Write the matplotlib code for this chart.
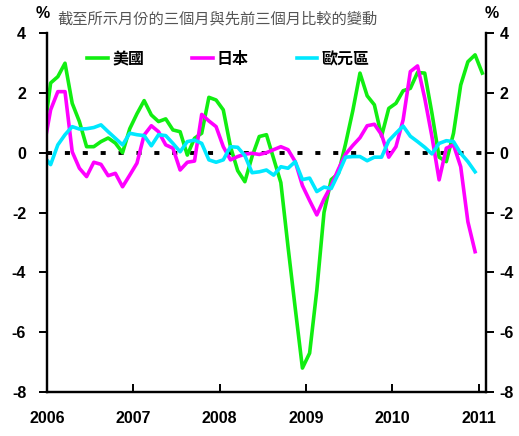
import matplotlib
matplotlib.use("Agg")
import matplotlib.pyplot as plt
import numpy as np

plt.rcParams['font.family'] = ['Liberation Sans', 'Noto Sans CJK TC']

# monthly values, mid-Dec 2005 .. mid-Jan 2011 (first point is clipped by the axis)
us = [0.5,
      2.33, 2.54, 2.99, 1.65, 1.04, 0.2, 0.2, 0.37, 0.49, 0.32, 0.0, 0.8,
      1.3, 1.74, 1.26, 1.04, 1.13, 0.76, 0.7, -0.08, 0.48, 0.65, 1.85, 1.76,
      1.43, 0.2, -0.6, -0.97, -0.13, 0.54, 0.6, -0.2, -1.0, -3.15, -5.2, -7.2,
      -6.7, -4.6, -2.0, -0.9, -0.7, 0.3, 1.4, 2.66, 1.9, 1.6, 0.55, 1.48,
      1.65, 2.07, 2.15, 2.68, 2.66, 1.32, -0.15, -0.3, 0.65, 2.26, 3.04, 3.27,
      2.66]
japan = [0.1,
         1.43, 2.04, 2.04, 0.03, -0.52, -0.8, -0.32, -0.39, -0.77, -0.69, -1.14, -0.75,
         -0.35, 0.59, 0.9, 0.7, 0.26, 0.15, -0.58, -0.32, -0.28, 1.28, 1.06, 0.87,
         0.2, -0.24, -0.13, -0.05, -0.02, -0.06, 0.0, 0.1, 0.2, 0.1, -0.3, -1.1,
         -1.6, -2.08, -1.55, -1.1, -0.55, -0.05, 0.24, 0.5, 0.9, 0.95, 0.6, -0.15,
         0.2, 1.1, 2.71, 2.9, 1.82, 0.54, -0.91, 0.15, 0.26, -0.47, -2.31, -3.31]
euro = [-0.1,
        -0.4, 0.26, 0.6, 0.87, 0.79, 0.8, 0.84, 0.93, 0.7, 0.48, 0.26, 0.65,
        0.6, 0.57, 0.23, 0.6, 0.57, 0.31, 0.03, 0.37, 0.42, 0.31, -0.24, -0.32,
        -0.24, 0.2, 0.18, -0.1, -0.67, -0.64, -0.58, -0.75, -0.47, -0.52, -0.3, -0.9,
        -0.85, -1.3, -1.15, -1.2, -0.7, -0.15, -0.13, -0.13, -0.27, -0.15, -0.15, 0.4,
        0.65, 0.89, 0.55, 0.37, 0.18, -0.04, 0.31, 0.4, 0.37, -0.02, -0.3, -0.64]

names = ['美國', '日本', '歐元區']
colors = ['#11EE11', '#FF00FF', '#00E8FF']
years = [2006, 2007, 2008, 2009, 2010, 2011]
yticks = [-8, -6, -4, -2, 0, 2, 4]
title = '截至所示月份的三個月與先前三個月比較的變動'

def month_x(n):
    return 2006 + (np.arange(n) - 0.5) / 12

fig = plt.figure(figsize=(5.19, 4.36), dpi=100)
ax = fig.add_axes([0.0906, 0.1009, 0.8452, 0.8234])

ax.axhline(0, color='black', lw=2.8, ls=(0, (1.3, 3.3)), zorder=1)
for data, name, c in zip([us, japan, euro], names, colors):
    ax.plot(month_x(len(data)), data, color=c, lw=2.6, label=name, zorder=2)

ax.set_xlim(2006, 2011.081)
ax.set_ylim(-8, 4)
ax.set_xticks(years)
ax.set_xticklabels([str(y) for y in years], fontweight='bold')
ax.set_yticks(yticks)
ax.set_yticklabels([str(v) for v in yticks], fontweight='bold')

# right hand axis, same scale
ax2 = ax.twinx()
ax2.set_ylim(-8, 4)
ax2.set_yticks(yticks)
ax2.set_yticklabels([str(v) for v in yticks], fontweight='bold')

for a in [ax, ax2]:
    a.spines['top'].set_visible(False)
    for s in ['left', 'right', 'bottom']:
        a.spines[s].set_linewidth(1.6)

ax.tick_params(axis='x', direction='in', length=6, width=1.4, pad=14,
               labelsize=11.5)
ax.tick_params(axis='y', direction='out', length=6, width=1.4, pad=9,
               labelsize=11.5)
ax2.tick_params(axis='y', direction='out', length=6, width=1.4, pad=4,
                labelsize=11.5)

ax.legend(loc='center left', bbox_to_anchor=(73 / 519, 1 - 59 / 436),
          bbox_transform=fig.transFigure, ncol=3, frameon=False,
          handlelength=1.3, handletextpad=0.25, columnspacing=3.0,
          prop={'weight': 'bold', 'size': 11.5, 'family': ['Noto Sans CJK TC']})

fig.text(43 / 519, 1 - 13 / 436, '%', ha='center', va='center',
         fontsize=11.5, fontweight='bold')
fig.text(492 / 519, 1 - 13 / 436, '%', ha='center', va='center',
         fontsize=11.5, fontweight='bold')
fig.text(57 / 519, 1 - 19 / 436, title, ha='left', va='center',
         fontsize=11, color='#555555', family=['Noto Sans CJK TC'])

fig.savefig('out.png', dpi=100)
